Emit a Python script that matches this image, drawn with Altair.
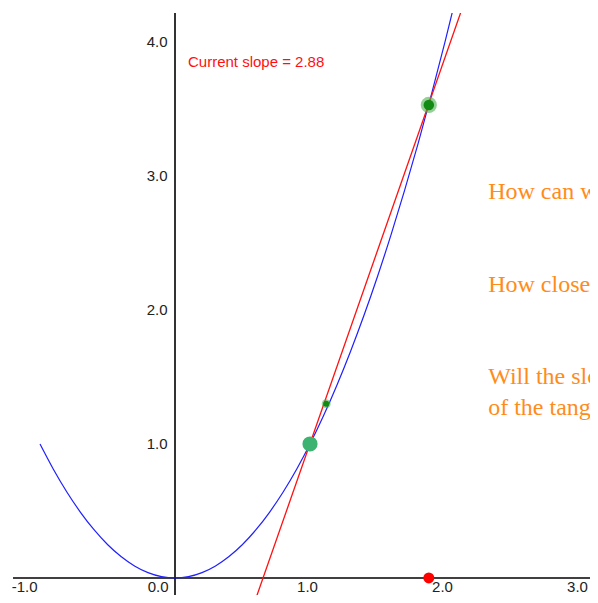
import altair as alt
import pandas as pd

# Parabola
curve_x = [-1.0, -0.9, -0.8, -0.7, -0.6, -0.5, -0.4, -0.3, -0.2, -0.1, 0.0,
           0.1, 0.2, 0.3, 0.4, 0.5, 0.6, 0.7, 0.8, 0.9, 1.0, 1.1, 1.2, 1.3,
           1.4, 1.5, 1.6, 1.7, 1.8, 1.9, 2.0, 2.1]
curve_y = [1.0, 0.81, 0.64, 0.49, 0.36, 0.25, 0.16, 0.09, 0.04, 0.01, 0.0,
           0.01, 0.04, 0.09, 0.16, 0.25, 0.36, 0.49, 0.64, 0.81, 1.0, 1.21, 1.44, 1.69,
           1.96, 2.25, 2.56, 2.89, 3.24, 3.61, 4.0, 4.41]

# Secant line (slope 2.88)
secant_x = [0.60, 2.12]
secant_y = [-0.15, 4.23]

# Points
fixed_pt = (1.0, 1.0)
moving_pt = (1.88, 3.53)
ghost_pt = (1.12, 1.30)
axis_pt = (1.88, 0.0)

slope_label = "Current slope = 2.88"
questions = ["How can we find the slope of the tangent?",
             "How close must the points be?",
             "Will the slope of the secant approach the slope",
             "of the tangent line?"]
question_y = [2.88, 2.19, 1.50, 1.27]
question_x = 2.32

x_ticks = [-1, 0, 1, 2, 3]
y_ticks = [1, 2, 3, 4]

X_DOM = [-1.2, 3.074]
Y_DOM = [-0.127, 4.216]

xaxis = alt.Axis(values=x_ticks, format=".1f", domain=False, ticks=False, grid=False,
                 offset=-17, labelPadding=1, labelFontSize=15, labelFont="Liberation Sans",
                 labelColor="#222222", title=None, labelFlush=False, labelOverlap=False,
                 labelExpr="replace(datum.label, '\u2212', '-')",
                 labelAlign={"condition": {"test": "datum.value <= 0", "value": "right"}, "value": "center"},
                 labelOffset={"condition": {"test": "datum.value == 0", "value": -7}, "value": -3})
yaxis = alt.Axis(values=y_ticks, format=".1f", domain=False, ticks=False, grid=False,
                 offset=-162, labelPadding=8, labelFontSize=15, labelFont="Liberation Sans",
                 labelColor="#222222", title=None, labelFlush=False, labelOverlap=False)

X = alt.X("x:Q", scale=alt.Scale(domain=X_DOM, nice=False, zero=False), axis=xaxis)
Y = alt.Y("y:Q", scale=alt.Scale(domain=Y_DOM, nice=False, zero=False), axis=yaxis)

curve_df = pd.DataFrame({"x": curve_x, "y": curve_y})
secant_df = pd.DataFrame({"x": secant_x, "y": secant_y})

vline = alt.Chart(pd.DataFrame({"x": [0.0]})).mark_rule(color="black", strokeWidth=1.6).encode(x=X)
hline = alt.Chart(pd.DataFrame({"y": [0.0]})).mark_rule(color="black", strokeWidth=1.6).encode(y=Y)

curve = alt.Chart(curve_df).mark_line(color="#1f1fff", strokeWidth=1.2, clip=True,
                                      interpolate="monotone").encode(x=X, y=Y)
secant = alt.Chart(secant_df).mark_line(color="#ff1010", strokeWidth=1.3, clip=True).encode(x=X, y=Y)

def pt(p, size, color, opacity=1.0):
    return alt.Chart(pd.DataFrame({"x": [p[0]], "y": [p[1]]})).mark_circle(
        size=size, color=color, opacity=opacity).encode(x=X, y=Y)

points = [
    pt(fixed_pt, 230, "#3cb371"),
    pt(moving_pt, 260, "#4caf50", 0.6),
    pt(moving_pt, 110, "#138a13"),
    pt(ghost_pt, 80, "#4caf50", 0.55),
    pt(ghost_pt, 35, "#138a13"),
    pt(axis_pt, 120, "#ff0000"),
]

slope_text = alt.Chart(pd.DataFrame({"x": [0.096], "y": [3.852], "t": [slope_label]})).mark_text(
    align="left", baseline="middle", font="Liberation Sans", fontSize=15, color="#ff1010"
).encode(x=X, y=Y, text="t:N")

q_text = alt.Chart(pd.DataFrame({"x": [question_x] * 4, "y": question_y, "t": questions})).mark_text(
    align="left", baseline="middle", font="Liberation Serif", fontSize=24, color="#ff8c1a", clip=True
).encode(x=X, y=Y, text="t:N")

chart = alt.layer(vline, hline, curve, secant, *points, slope_text, q_text).properties(
    width=577, height=582, autosize="none",
    padding={"left": 5, "top": 5, "right": 0, "bottom": 0}
).configure_view(stroke=None)

chart.save("out.html", embed_options={"renderer": "svg", "actions": False})
